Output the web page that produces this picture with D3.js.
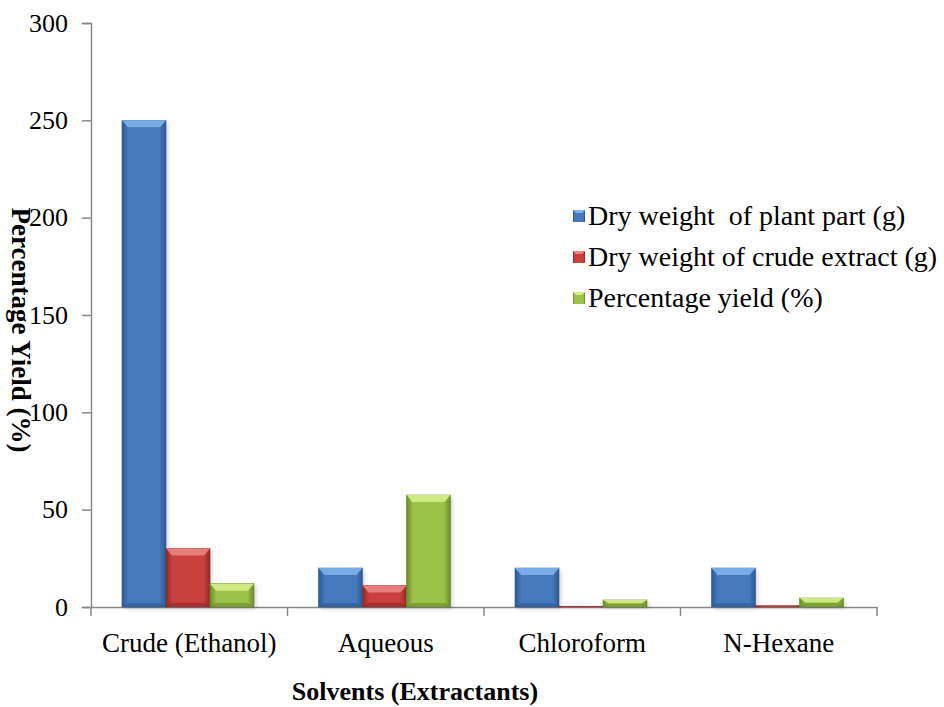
<!DOCTYPE html>
<html lang="en">
<head>
<meta charset="UTF-8">
<title>Percentage Yield</title>
<style>
  body { margin: 0; background: #fff; }
  svg { display: block; font-family: "Liberation Serif", "Times New Roman", serif; }
  .legend text { white-space: pre; }
</style>
</head>
<body>
<div id="chart"></div>
<script src="https://d3js.org/d3.v7.min.js"></script>
<script>
  // data
  const categories = ["Crude (Ethanol)", "Aqueous", "Chloroform", "N-Hexane"];
  const seriesNames = ["Dry weight  of plant part (g)", "Dry weight of crude extract (g)", "Percentage yield (%)"];
  const plantPart = [250, 20, 20, 20];
  const crudeExtract = [30, 11, 0.4, 0.8];
  const yieldPct = [12, 57.5, 3.6, 4.6];
  const yTicks = [0, 50, 100, 150, 200, 250, 300];

  const colors = [
    { base: "#4679bd", light: "#7fb0ea", dark: "#2c5a94" },
    { base: "#c9403d", light: "#ea8583", dark: "#8e2a28" },
    { base: "#9cc24a", light: "#d4ef8a", dark: "#6a8a2a" }
  ];

  const width = 944, height = 707;
  const x0 = 91, x1 = 877, yTop = 23, yBot = 607;

  const svg = d3.select("#chart").append("svg")
    .attr("width", width).attr("height", height);

  const defs = svg.append("defs");
  colors.forEach((c, i) => {
    const g = defs.append("linearGradient").attr("id", "grad" + i)
      .attr("x1", 0).attr("x2", 1).attr("y1", 0).attr("y2", 0);
    g.append("stop").attr("offset", "0%").attr("stop-color", c.dark);
    g.append("stop").attr("offset", "15%").attr("stop-color", c.base);
    g.append("stop").attr("offset", "85%").attr("stop-color", c.base);
    g.append("stop").attr("offset", "100%").attr("stop-color", c.dark);
  });
  const blur = defs.append("filter").attr("id", "shadow").attr("x", "-20%").attr("width", "140%");
  blur.append("feGaussianBlur").attr("stdDeviation", 2);

  const x = d3.scaleBand().domain(categories).range([x0, x1]);
  const xs = d3.scaleBand().domain(d3.range(3)).range([31, 31 + 132]);
  const y = d3.scaleLinear().domain([0, 300]).range([yBot, yTop]);

  // axes
  const yAxis = svg.append("g").attr("transform", `translate(${x0},0)`)
    .call(d3.axisLeft(y).tickValues(yTicks).tickSize(9).tickPadding(14));
  yAxis.select(".domain").attr("stroke", "#888").attr("stroke-width", 1.5);
  yAxis.selectAll(".tick line").attr("stroke", "#888").attr("stroke-width", 1.5);
  yAxis.selectAll(".tick text").attr("font-size", 26).attr("fill", "#000")
    .attr("font-family", "Liberation Serif, serif");

  const xAxis = svg.append("g").attr("transform", `translate(0,${yBot})`)
    .call(d3.axisBottom(x).tickSize(0).tickPadding(26));
  xAxis.select(".domain").attr("stroke", "#888").attr("stroke-width", 1.5);
  xAxis.selectAll(".tick text").attr("font-size", 27).attr("fill", "#000")
    .attr("font-family", "Liberation Serif, serif");
  // category separators
  xAxis.selectAll(".sep").data(d3.range(categories.length + 1)).enter().append("line")
    .attr("x1", i => x0 + i * x.bandwidth()).attr("x2", i => x0 + i * x.bandwidth())
    .attr("y1", 0).attr("y2", 9).attr("stroke", "#888").attr("stroke-width", 1.5);

  const series = [plantPart, crudeExtract, yieldPct];
  const bars = [];
  series.forEach((vals, s) => {
    vals.forEach((v, i) => bars.push({ s, v, cat: categories[i] }));
  });

  const g = svg.append("g");
  // shadows
  g.selectAll(".shadow").data(bars).enter().append("rect")
    .attr("x", d => x(d.cat) + xs(d.s) + 2)
    .attr("y", d => y(d.v) + 2)
    .attr("width", xs.bandwidth())
    .attr("height", d => yBot - y(d.v))
    .attr("fill", "#000").attr("opacity", 0.18).attr("filter", "url(#shadow)");

  const bar = g.selectAll(".bar").data(bars).enter().append("g");
  bar.append("rect")
    .attr("x", d => x(d.cat) + xs(d.s))
    .attr("y", d => y(d.v))
    .attr("width", xs.bandwidth())
    .attr("height", d => Math.max(0.8, yBot - y(d.v)))
    .attr("fill", d => `url(#grad${d.s})`)
    .attr("stroke", d => colors[d.s].dark).attr("stroke-width", 0.6);
  // bevel top
  bar.append("polygon")
    .attr("points", d => {
      const bx = x(d.cat) + xs(d.s), bw = xs.bandwidth(), by = y(d.v);
      const h = Math.min(7, (yBot - by) / 2);
      return [[bx, by], [bx + bw, by], [bx + bw - 6, by + h], [bx + 6, by + h]].join(" ");
    })
    .attr("fill", d => colors[d.s].light).attr("opacity", 0.9);
  // bevel bottom
  bar.append("polygon")
    .attr("points", d => {
      const bx = x(d.cat) + xs(d.s), bw = xs.bandwidth(), by = y(d.v);
      const h = Math.min(4, (yBot - by) / 2);
      return [[bx, yBot], [bx + bw, yBot], [bx + bw - 6, yBot - h], [bx + 6, yBot - h]].join(" ");
    })
    .attr("fill", d => colors[d.s].dark).attr("opacity", 0.6);

  // axis titles
  svg.append("text")
    .attr("transform", "translate(12,330) rotate(90)")
    .attr("text-anchor", "middle")
    .attr("font-size", 27).attr("font-weight", "bold")
    .text("Percentage Yield (%)");
  svg.append("text")
    .attr("x", 415).attr("y", 700)
    .attr("text-anchor", "middle")
    .attr("font-size", 26).attr("font-weight", "bold")
    .text("Solvents (Extractants)");

  // legend
  const legend = svg.append("g").attr("class", "legend").attr("transform", "translate(573,216)");
  const item = legend.selectAll(".item").data(seriesNames).enter().append("g")
    .attr("transform", (d, i) => `translate(0,${i * 41})`);
  item.append("rect").attr("x", 0).attr("y", -6).attr("width", 12).attr("height", 12)
    .attr("fill", (d, i) => `url(#grad${i})`);
  item.append("polygon")
    .attr("points", "0,-6 12,-6 9,-3 3,-3")
    .attr("fill", (d, i) => colors[i].light);
  item.append("text").attr("x", 15).attr("y", 9)
    .attr("font-size", 28).text(d => d);
</script>
</body>
</html>
